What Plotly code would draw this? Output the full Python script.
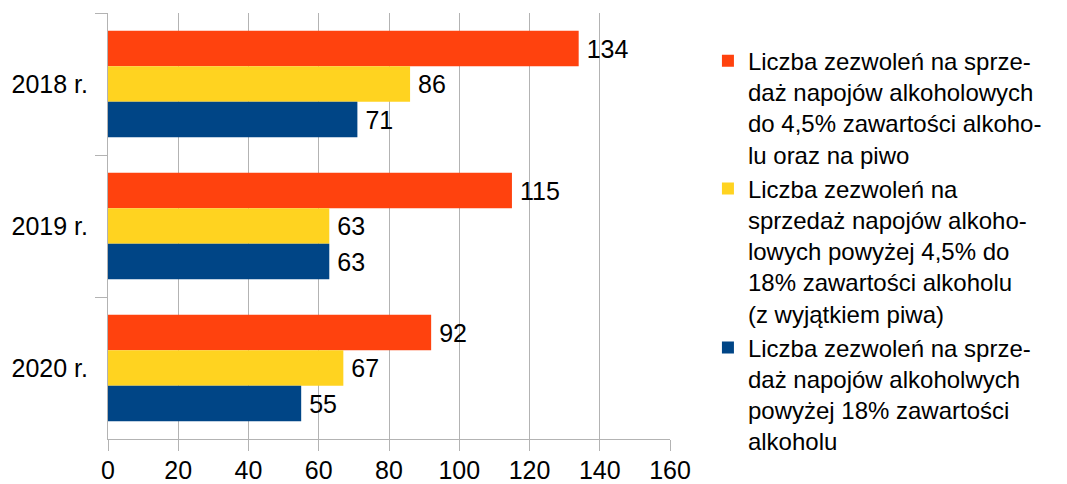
import plotly.graph_objects as go

categories = ["2018 r.", "2019 r.", "2020 r."]
series_names = [
    "Liczba zezwoleń na sprze-<br>daż napojów alkoholowych<br>do 4,5% zawartości alkoho-<br>lu oraz na piwo",
    "Liczba zezwoleń na<br>sprzedaż napojów alkoho-<br>lowych powyżej 4,5% do<br>18% zawartości alkoholu<br>(z wyjątkiem piwa)",
    "Liczba zezwoleń na sprze-<br>daż napojów alkoholwych<br>powyżej 18% zawartości<br>alkoholu",
]
values_low = [134, 115, 92]
values_mid = [86, 63, 67]
values_high = [71, 63, 55]
colors = ["#FF420E", "#FFD320", "#004586"]
x_ticks = [0, 20, 40, 60, 80, 100, 120, 140, 160]

FONT = "Liberation Sans, Arial, sans-serif"
fig = go.Figure()
for name, vals, col in zip(series_names, [values_low, values_mid, values_high], colors):
    fig.add_trace(go.Bar(
        y=categories, x=vals, name=name, orientation="h",
        marker=dict(color=col, line=dict(width=0)),
        texttemplate="\u2009%{x}", textposition="outside",
        textfont=dict(size=25, color="#000000", family=FONT),
        cliponaxis=False,
    ))

fig.update_layout(
    width=1067, height=484,
    margin=dict(l=108, r=397, t=13, b=45, autoexpand=False),
    paper_bgcolor="white", plot_bgcolor="white",
    barmode="group", bargap=0.25, bargroupgap=0,
    font=dict(family=FONT, size=25, color="#000000"),
    legend=dict(
        x=1.0675, y=0.94, xanchor="left", yanchor="top",
        traceorder="normal", valign="top",
        font=dict(size=24, family=FONT, color="#000000"),
        bgcolor="rgba(0,0,0,0)", itemclick=False,
    ),
    showlegend=True,
)
fig.update_xaxes(
    range=[0, 160], tickvals=x_ticks, ticktext=[str(t) for t in x_ticks],
    showgrid=True, gridcolor="#b3b3b3", gridwidth=1,
    showline=True, linecolor="#b3b3b3", linewidth=1,
    ticks="outside", ticklen=11, tickcolor="#b3b3b3",
    zeroline=False, tickfont=dict(size=25, family=FONT), automargin=False,
    ticklabelstandoff=-2,
)
fig.update_yaxes(
    type="category", categoryorder="array", categoryarray=categories,
    autorange="reversed",
    showgrid=False, showline=True, linecolor="#b3b3b3", linewidth=1,
    ticks="outside", tickson="boundaries", ticklen=12, tickcolor="#b3b3b3",
    tickfont=dict(size=25, family=FONT), ticklabelstandoff=14, automargin=False,
)

fig.write_html(
    "out.html",
    config={"displayModeBar": False},
    post_script="document.body.style.margin='0';document.body.style.padding='0';",
)
